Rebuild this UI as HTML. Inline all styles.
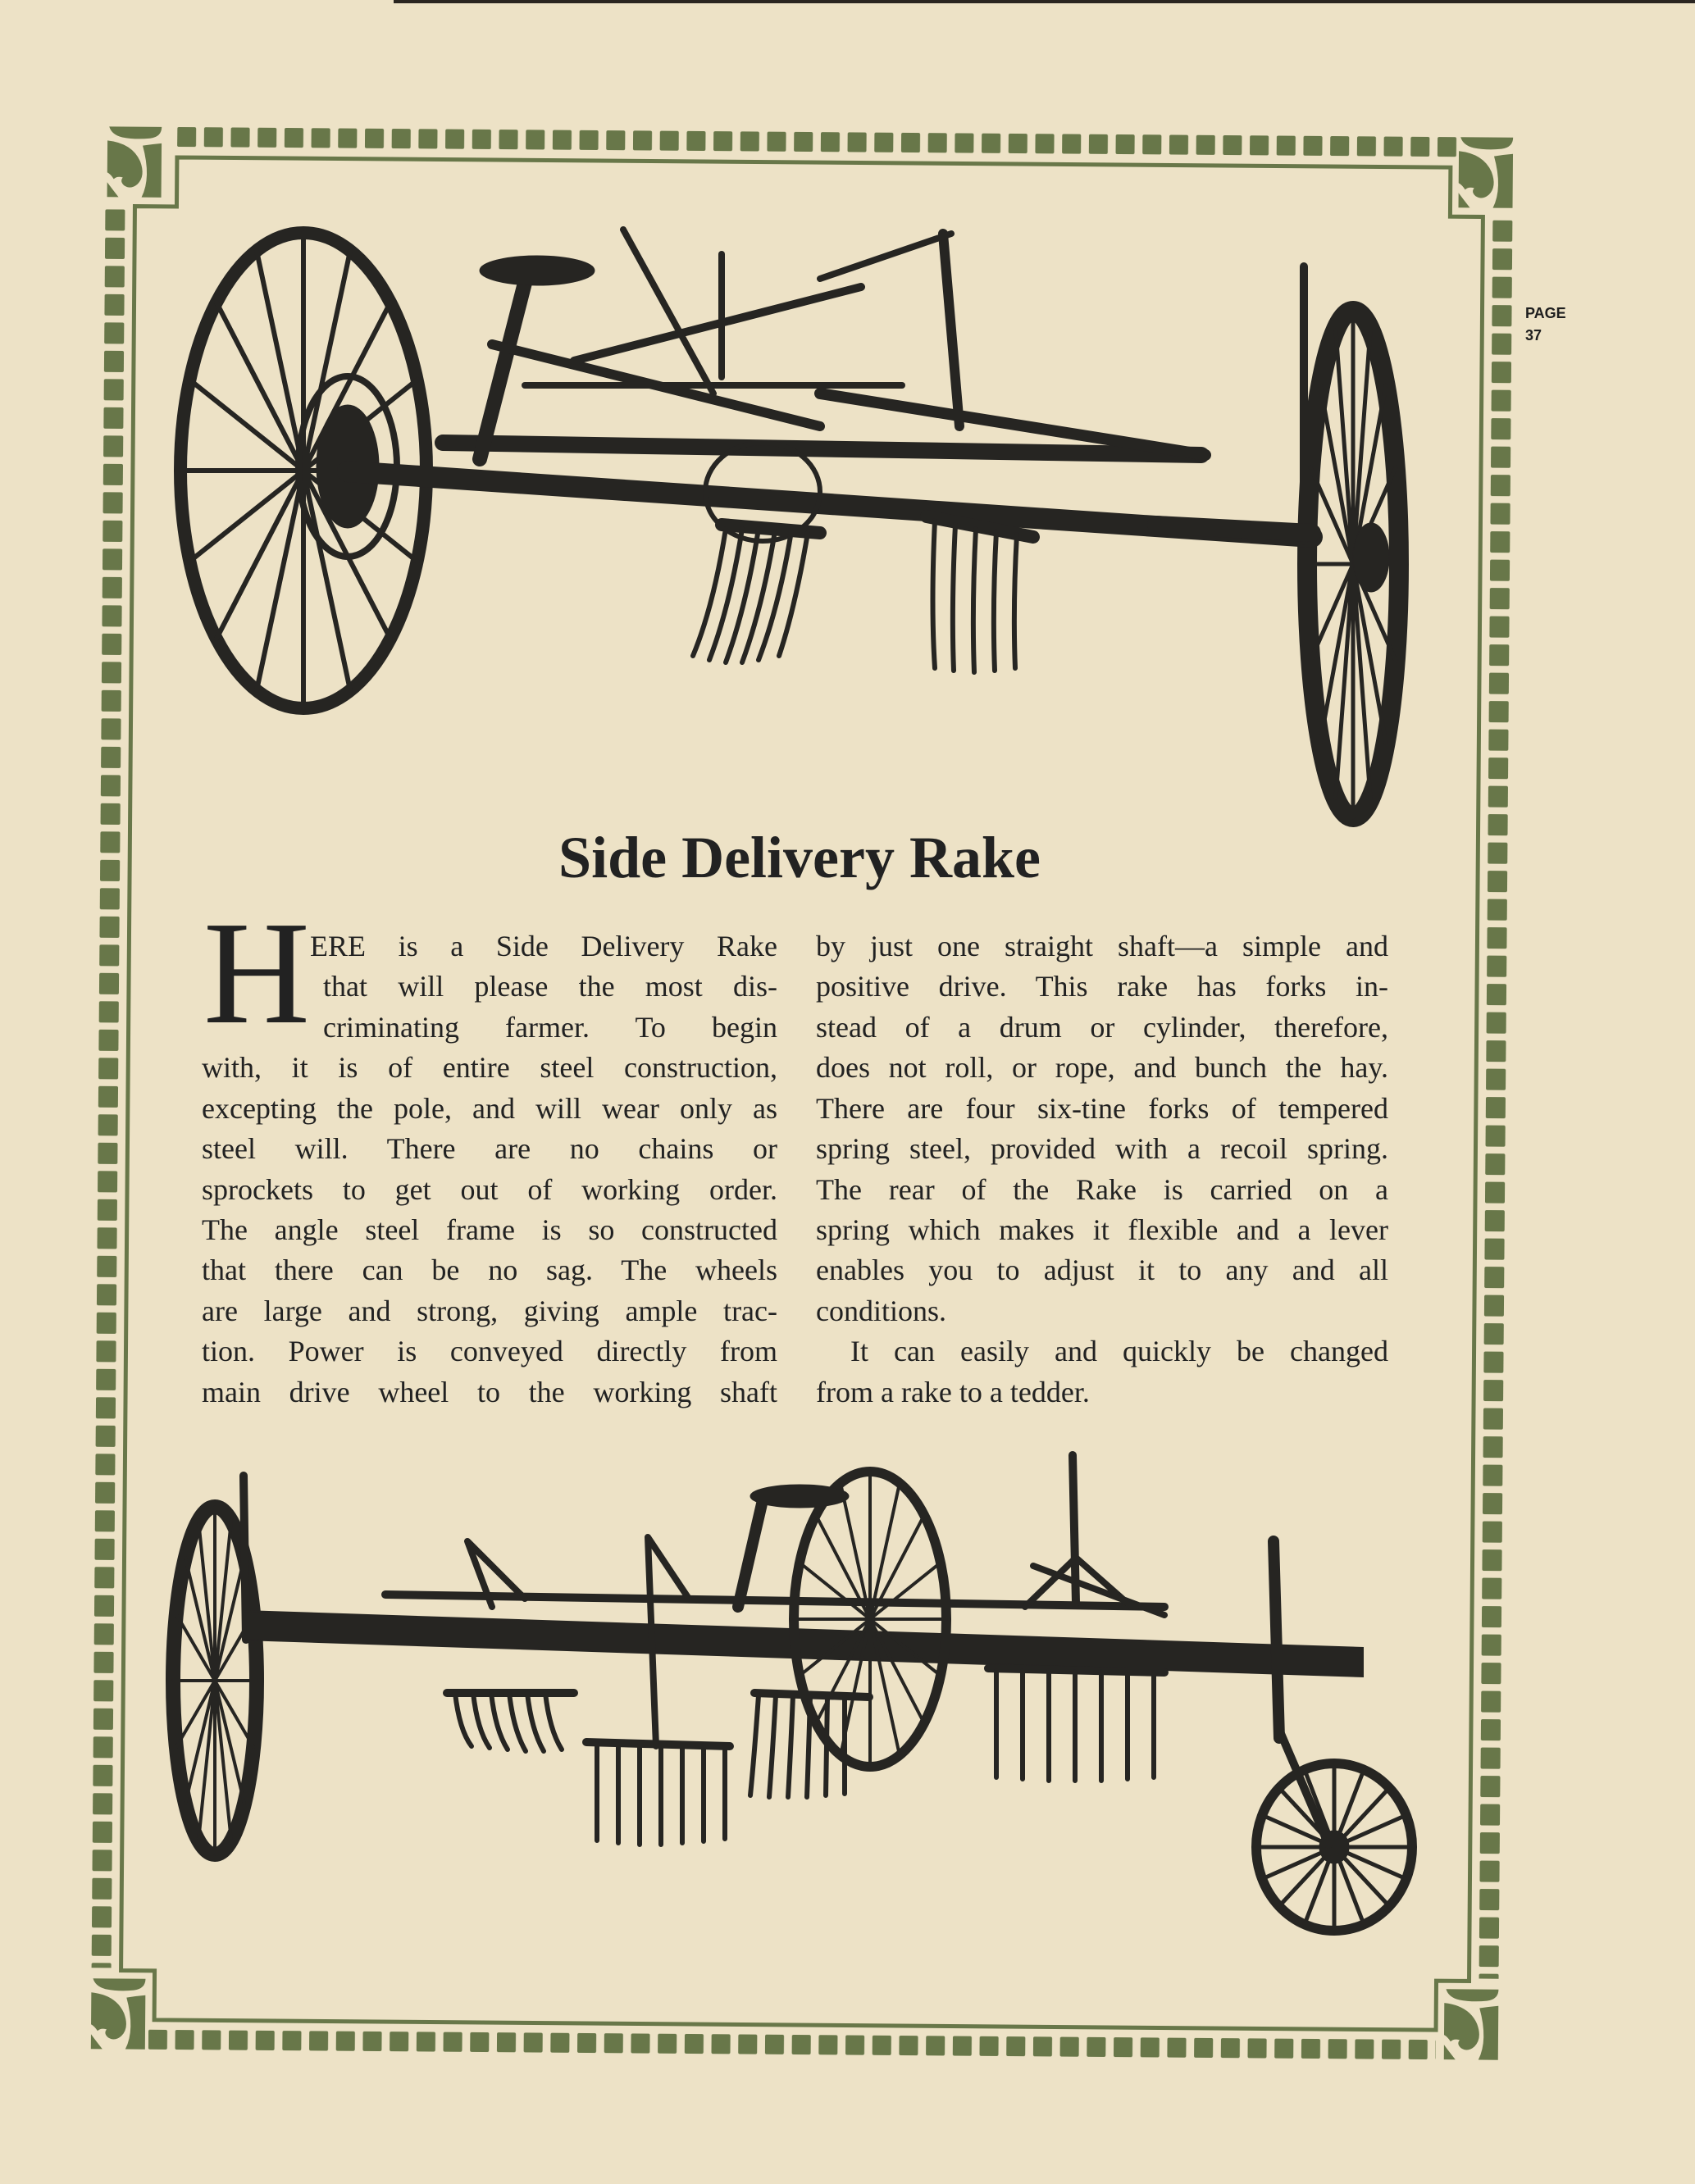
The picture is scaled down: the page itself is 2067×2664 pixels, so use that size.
<!DOCTYPE html>
<html><head><meta charset="utf-8"><style>
html,body{margin:0;padding:0}
body{width:2067px;height:2664px;position:relative;overflow:hidden;background:#ede2c6;font-family:"Liberation Serif",serif;color:#222}
svg{position:absolute;left:0;top:0}
.l{position:absolute;font-size:36px;line-height:40px;white-space:nowrap;height:40px;overflow:visible}
.j{text-align:justify;text-align-last:justify;white-space:normal}
.title{position:absolute;left:575px;width:800px;top:1006px;text-align:center;font-weight:bold;font-size:72px;line-height:80px}
.cap{position:absolute;left:248px;top:1097px;font-size:180px;line-height:180px}
.pg{position:absolute;left:1860px;font-family:"Liberation Sans",sans-serif;font-weight:bold;font-size:18px;line-height:20px;color:#1e1e1e}
</style></head><body>
<svg width="2067" height="2664" viewBox="0 0 2067 2664">
<defs>
<pattern id="ph" x="207" y="161" width="32.7" height="24" patternUnits="userSpaceOnUse"><rect x="0" y="0" width="23" height="24" rx="2" fill="#687749"/></pattern>
<pattern id="pb" x="190" y="2482" width="32.7" height="24" patternUnits="userSpaceOnUse"><rect x="0" y="0" width="23" height="24" rx="2" fill="#687749"/></pattern>
<pattern id="pl" x="120" y="262" width="24" height="34.5" patternUnits="userSpaceOnUse"><rect x="0" y="0" width="24" height="26" rx="2" fill="#687749"/></pattern>
<pattern id="pr" x="1812" y="262" width="24" height="34.5" patternUnits="userSpaceOnUse"><rect x="0" y="0" width="24" height="26" rx="2" fill="#687749"/></pattern>
<g id="orn" fill="#687749">
<path d="M2,0 H66 Q66,12 52,14 Q34,16 18,13 Q5,10 2,0Z"/>
<path d="M0,17 Q30,20 40,42 Q47,60 37,70 Q29,77 21,72 Q15,67 19,62 Q12,60 8,64 Q4,58 0,56Z"/>
<path d="M0,68 Q6,76 14,86 H0Z"/>
<path d="M66,20 V86 H42 Q54,62 43,23 Q55,21 66,20Z"/>
</g>
</defs>
<rect x="480" y="0" width="1587" height="4" fill="#2a2520"/>
<g transform="rotate(0.45 978 1333)">
<rect x="207" y="161" width="1566" height="24" fill="url(#ph)"/>
<rect x="190" y="2482" width="1570" height="24" fill="url(#pb)"/>
<rect x="120" y="262" width="24" height="2145" fill="url(#pl)"/>
<rect x="1812" y="262" width="24" height="2145" fill="url(#pr)"/>
<use href="#orn" x="122" y="161"/>
<use href="#orn" x="1770" y="161"/>
<use href="#orn" x="120" y="2420"/>
<use href="#orn" x="1770" y="2420"/>
<path d="M207,198 H1760 V258 H1800 V2410 H1760 V2470 H197 V2410 H156 V258 H207 Z" fill="none" stroke="#687749" stroke-width="5"/>
</g>
<g stroke="#262522" fill="none" stroke-linecap="round">
<ellipse cx="370" cy="574" rx="150" ry="290" stroke-width="16"/>
<path d="M220,574L520,574 M231,463L509,685 M264,369L476,779 M313,306L427,842 M370,284L370,864 M427,306L313,842 M476,369L264,779 M509,463L231,685" stroke-width="6"/>
<ellipse cx="424" cy="569" rx="38" ry="75" fill="#262522"/>
<ellipse cx="424" cy="569" rx="60" ry="110" stroke-width="8"/>
<ellipse cx="1650" cy="688" rx="56" ry="309" stroke-width="24"/>
<path d="M1594,688L1706,688 M1598,570L1702,806 M1610,470L1690,906 M1629,403L1671,973 M1650,379L1650,997 M1671,403L1629,973 M1690,470L1610,906 M1702,570L1598,806" stroke-width="5"/>
<ellipse cx="1672" cy="680" rx="22" ry="42" fill="#262522"/>
<path d="M424,575 L1600,655" stroke-width="26"/>
<path d="M540,540 L1465,555" stroke-width="20"/>
<path d="M640,345 L585,560" stroke-width="18"/>
<ellipse cx="655" cy="330" rx="70" ry="18" fill="#262522"/>
<path d="M600,420 L1000,520" stroke-width="12"/>
<path d="M700,440 L1050,350" stroke-width="10"/>
<path d="M1150,285 L1170,520" stroke-width="12"/>
<path d="M1000,340 L1160,285" stroke-width="8"/>
<path d="M1590,325 L1590,660" stroke-width="10"/>
<path d="M880,310 L880,460" stroke-width="8"/>
<path d="M1000,480 L1470,555" stroke-width="14"/>
<path d="M760,280 L870,480" stroke-width="8"/>
<path d="M640,470 L1100,470" stroke-width="8"/>
<ellipse cx="930" cy="600" rx="70" ry="60" stroke-width="6"/>
<path d="M1410,640 L1600,650" stroke-width="22"/>
<path d="M880,640 L1000,650" stroke-width="16"/>
<path d="M885,645 Q870,740 845,800 M905,645 Q890,740 865,805 M925,645 Q910,740 885,808 M945,648 Q930,740 905,808 M965,648 Q950,740 925,805 M985,650 Q970,740 950,800" stroke-width="6"/>
<path d="M1130,630 L1260,655" stroke-width="16"/>
<path d="M1140,635 Q1135,740 1140,815 M1165,640 Q1160,740 1163,818 M1190,645 Q1185,740 1188,820 M1215,648 Q1210,740 1213,818 M1240,652 Q1235,740 1238,815" stroke-width="6"/>
<ellipse cx="262" cy="2050" rx="51" ry="212" stroke-width="18"/>
<path d="M211,2050L313,2050 M215,1969L309,2131 M226,1900L298,2200 M242,1854L282,2246 M262,1838L262,2262 M282,1854L242,2246 M298,1900L226,2200 M309,1969L215,2131" stroke-width="4"/>
<path d="M297,1800 L300,2000" stroke-width="10"/>
<path d="M297,1965 L1662,2010 L1662,2045 L297,2000Z" fill="#262522" stroke-width="2"/>
<path d="M470,1945 L1420,1960" stroke-width="10"/>
<ellipse cx="1061" cy="1975" rx="93" ry="180" stroke-width="12"/>
<path d="M968,1975L1154,1975 M975,1906L1147,2044 M995,1848L1127,2102 M1025,1809L1097,2141 M1061,1795L1061,2155 M1097,1809L1025,2141 M1127,1848L995,2102 M1147,1906L975,2044" stroke-width="4"/>
<ellipse cx="975" cy="1825" rx="60" ry="14" fill="#262522"/>
<path d="M930,1830 L900,1960" stroke-width="14"/>
<path d="M1308,1775 L1312,1955" stroke-width="10"/>
<path d="M1260,1910 L1420,1970 M1312,1900 L1250,1960 M1312,1900 L1380,1960" stroke-width="8"/>
<path d="M1553,1880 L1560,2120" stroke-width="14"/>
<ellipse cx="1627" cy="2253" rx="95" ry="102" stroke-width="12"/>
<path d="M1532,2253L1722,2253 M1539,2214L1715,2292 M1560,2181L1694,2325 M1591,2159L1663,2347 M1627,2151L1627,2355 M1663,2159L1591,2347 M1694,2181L1560,2325 M1715,2214L1539,2292" stroke-width="5"/>
<ellipse cx="1627" cy="2253" rx="18" ry="20" fill="#262522"/>
<path d="M1560,2110 L1620,2250" stroke-width="10"/>
<path d="M570,1880 L600,1960 M570,1880 L640,1950 M790,1875 L800,2130 M790,1875 L840,1950" stroke-width="8"/>
<path d="M545,2065 L700,2065" stroke-width="10"/>
<path d="M555,2065 Q560,2110 575,2130 M577,2065 Q582,2110 597,2132 M599,2065 Q604,2110 619,2134 M621,2065 Q626,2110 641,2136 M643,2065 Q648,2110 663,2136 M665,2065 Q670,2110 685,2134" stroke-width="6"/>
<path d="M715,2125 L890,2130" stroke-width="10"/>
<path d="M728,2128 V2245 M754,2128 V2248 M780,2128 V2250 M806,2128 V2250 M832,2129 V2248 M858,2129 V2246 M884,2130 V2243" stroke-width="6"/>
<path d="M920,2065 L1060,2070" stroke-width="10"/>
<path d="M925,2068 Q920,2140 915,2190 M946,2068 Q942,2140 938,2192 M967,2068 Q964,2140 961,2192 M988,2069 Q986,2140 984,2192 M1009,2069 Q1008,2140 1007,2190 M1030,2070 V2188" stroke-width="6"/>
<path d="M1205,2035 L1420,2040" stroke-width="10"/>
<path d="M1215,2038 V2168 M1247,2038 V2170 M1279,2038 V2172 M1311,2039 V2172 M1343,2039 V2172 M1375,2040 V2170 M1407,2040 V2168" stroke-width="6"/>
</g>
</svg>
<div class="pg" style="top:372px">PAGE</div>
<div class="pg" style="top:399px">37</div>
<div class="title">Side Delivery Rake</div>
<div class="cap">H</div>
<div class="l j" style="left:378px;width:570px;top:1134px">ERE is a Side Delivery Rake</div>
<div class="l j" style="left:394px;width:554px;top:1183px">that will please the most dis-</div>
<div class="l j" style="left:394px;width:554px;top:1233px">criminating farmer. To begin</div>
<div class="l j" style="left:246px;width:702px;top:1282px">with, it is of entire steel construction,</div>
<div class="l j" style="left:246px;width:702px;top:1332px">excepting the pole, and will wear only as</div>
<div class="l j" style="left:246px;width:702px;top:1381px">steel will. There are no chains or</div>
<div class="l j" style="left:246px;width:702px;top:1431px">sprockets to get out of working order.</div>
<div class="l j" style="left:246px;width:702px;top:1480px">The angle steel frame is so constructed</div>
<div class="l j" style="left:246px;width:702px;top:1529px">that there can be no sag. The wheels</div>
<div class="l j" style="left:246px;width:702px;top:1579px">are large and strong, giving ample trac-</div>
<div class="l j" style="left:246px;width:702px;top:1628px">tion. Power is conveyed directly from</div>
<div class="l j" style="left:246px;width:702px;top:1678px">main drive wheel to the working shaft</div>
<div class="l j" style="left:995px;width:698px;top:1134px">by just one straight shaft—a simple and</div>
<div class="l j" style="left:995px;width:698px;top:1183px">positive drive. This rake has forks in-</div>
<div class="l j" style="left:995px;width:698px;top:1233px">stead of a drum or cylinder, therefore,</div>
<div class="l j" style="left:995px;width:698px;top:1282px">does not roll, or rope, and bunch the hay.</div>
<div class="l j" style="left:995px;width:698px;top:1332px">There are four six-tine forks of tempered</div>
<div class="l j" style="left:995px;width:698px;top:1381px">spring steel, provided with a recoil spring.</div>
<div class="l j" style="left:995px;width:698px;top:1431px">The rear of the Rake is carried on a</div>
<div class="l j" style="left:995px;width:698px;top:1480px">spring which makes it flexible and a lever</div>
<div class="l j" style="left:995px;width:698px;top:1529px">enables you to adjust it to any and all</div>
<div class="l" style="left:995px;top:1579px">conditions.</div>
<div class="l j" style="left:1037px;width:656px;top:1628px">It can easily and quickly be changed</div>
<div class="l" style="left:995px;top:1678px">from a rake to a tedder.</div>
</body></html>
